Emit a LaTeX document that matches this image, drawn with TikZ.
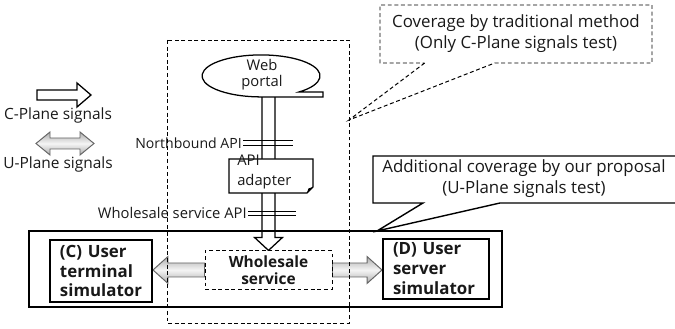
\documentclass[tikz,border=0pt]{standalone}
\usepackage{fontspec}
\setmainfont{Open Sans}
\usepackage{tikz}
\usetikzlibrary{calc,backgrounds,shapes.callouts}
\newcommand{\px}{0.25mm}
\newcommand{\uplanecolor}{gray}
\newcommand{\thinline}{0.7pt}
\newcommand{\thickline}{1.4pt}

\tikzset{
  dashbox/.style={draw, line width=\thinline, dash pattern=on 2.8pt off 1.9pt},
  simbox/.style={draw, line width=\thickline, fill=white, align=left, inner xsep=10*\px, inner ysep=0pt,
    font=\bfseries\fontsize{12}{14.2}\selectfont},
  apilabel/.style={inner sep=0pt, font=\fontsize{10}{12}\selectfont},
  uplane/.style={draw=\uplanecolor!80!black, line width=\thinline, top color=\uplanecolor!65,
    bottom color=\uplanecolor!65, middle color=\uplanecolor!8},
  cplane/.style={draw, line width=0.9pt, fill=white},
  every node/.style={text=black!90}
}

\begin{document}
\begin{tikzpicture}[x=\px, y=-\px]
\useasboundingbox (0,0) rectangle (675,329);
%simulators
\node[simbox, text width=82*\px, minimum height=62*\px] (c) at (101,271) {(C) User\\terminal\\simulator};
\node[simbox, text width=86*\px, minimum height=60*\px] (d) at (436,269) {(D) User\\server\\simulator};
\node[dashbox, fill=white, minimum width=127*\px, minimum height=38*\px, align=center,
  font=\bfseries\fontsize{11}{12}\selectfont] (ws) at (268.5,270) {Wholesale\\service};
\draw[line width=\thickline] (29,231) rectangle (502,307);
%signals
\coordinate (pb) at (268.5,97);
\coordinate (ul) at (c.east |- ws.west);
\coordinate (ur) at (d.west |- ws.east);
\begin{scope}[on background layer]
\draw[cplane] ($(pb)+(-6.5,0)$) -- ($(ws.north)+(-6.5,-13)$) -- ($(ws.north)+(-14,-13)$) -- (ws.north)
  -- ($(ws.north)+(14,-13)$) -- ($(ws.north)+(6.5,-13)$) -- ($(pb)+(6.5,0)$);
\draw[uplane] ($(ws.west)+(0,-7)$) -- ($(ul)+(15,-7)$) -- ($(ul)+(15,-13.5)$) -- (ul)
  -- ($(ul)+(15,13.5)$) -- ($(ul)+(15,7)$) -- ($(ws.west)+(0,7)$) -- cycle;
\draw[uplane] ($(ws.east)+(0,-7)$) -- ($(ur)+(-15,-7)$) -- ($(ur)+(-15,-13.5)$) -- (ur)
  -- ($(ur)+(-15,13.5)$) -- ($(ur)+(-15,7)$) -- ($(ws.east)+(0,7)$) -- cycle;
\end{scope}
%web portal
\draw[line width=0.9pt, fill=white] (299,92) arc[start angle=50, end angle=-270, x radius=59, y radius=21]
  -- (323,97) -- (323,92) -- cycle;
\node[apilabel, align=center, font=\fontsize{10.5}{11.5}\selectfont] (portal) at (262,75) {Web\\portal};
%adapter
\draw[line width=0.9pt, fill=white] (229,159) -- (313,159) -- (313,187) -- (307,193) -- (229,193) -- cycle;
\fill (313,187) -- (307,193) -- (308.5,188.5) -- cycle;
\node[apilabel, align=left, anchor=west, font=\fontsize{10.5}{14}\selectfont] (adapter) at (237,172) {API\\adapter};
%apis
\node[apilabel, anchor=east] (nb) at (242,143) {Northbound API};
\draw[line width=\thinline] ($(nb.east)+(1,-2.5)$) -- ++(50,0);
\draw[line width=\thinline] ($(nb.east)+(1,2.5)$) -- ++(50,0);
\node[apilabel, anchor=east, font=\fontsize{10.5}{12}\selectfont] (wsapi) at (247,213) {Wholesale service API};
\draw[line width=\thinline] ($(wsapi.east)+(1,-2)$) -- ++(48,0);
\draw[line width=\thinline] ($(wsapi.east)+(1,2)$) -- ++(48,0);
%coverage
\draw[dashbox] (167,40) rectangle (349,323);
\coordinate (tip1) at (349,120);
\node[dashbox, rectangle callout, callout absolute pointer={(tip1)}, callout pointer width=70*\px,
  minimum width=272*\px, minimum height=58*\px, align=center, font=\fontsize{12}{15}\selectfont]
  (trad) at (516,34) {Coverage by traditional method\\(Only C-Plane signals test)};
\coordinate (tip2) at (377,231);
\draw[line width=1pt, fill=white] (373,156) -- (690,156) -- (690,203) -- (500,203) -- (tip2) -- (423,203)
  -- (373,203) -- cycle;
\node[align=center, font=\fontsize{12}{15}\selectfont] (addl) at (524,179)
  {Additional coverage by our proposal\\(U-Plane signals test)};
%legend
\draw[cplane] (37,90) -- (77,90) -- (77,83) -- (91,95) -- (77,107) -- (77,100) -- (37,100) -- cycle;
\node[apilabel, font=\fontsize{11}{13}\selectfont] (cleg) at (58,115) {C-Plane signals};
\draw[uplane] (36,143.5) -- (50,132) -- (50,138) -- (80,138) -- (80,132) -- (94,143.5) -- (80,155)
  -- (80,149) -- (50,149) -- (50,155) -- cycle;
\node[apilabel, font=\fontsize{11}{13}\selectfont] (uleg) at (58,164) {U-Plane signals};
\end{tikzpicture}
\end{document}
